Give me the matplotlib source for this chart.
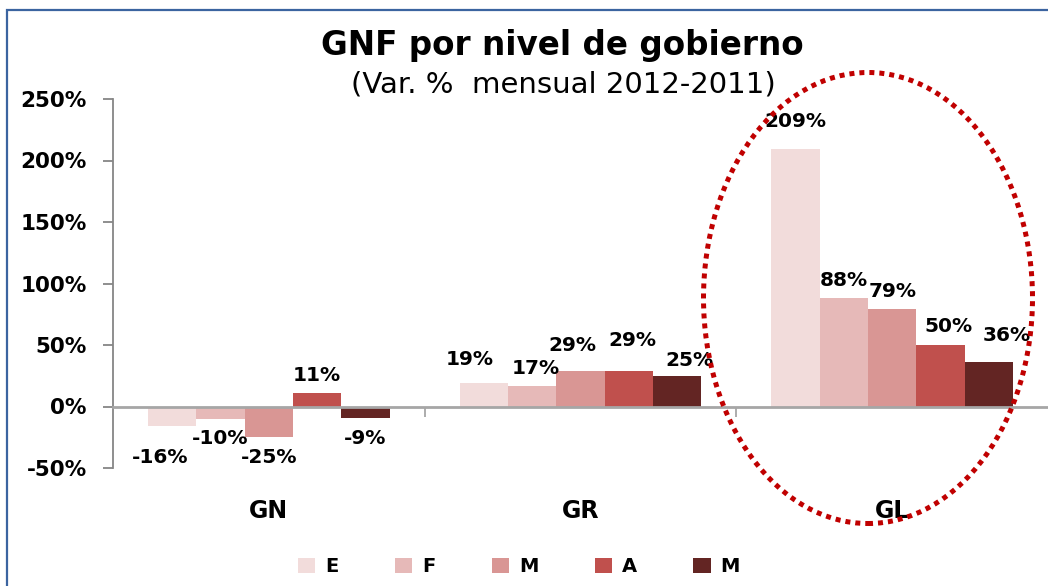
import matplotlib
matplotlib.use("Agg")
import matplotlib.pyplot as plt
import matplotlib.transforms as mtransforms
from matplotlib.patches import Ellipse, Rectangle
import numpy as np

# Datos
niveles = ["GN", "GR", "GL"]
meses = ["E", "F", "M", "A", "M"]
val_E = [-16, 19, 209]
val_F = [-10, 17, 88]
val_M = [-25, 29, 79]
val_A = [11, 29, 50]
val_M2 = [-9, 25, 36]
series = [val_E, val_F, val_M, val_A, val_M2]

colores = ["#F2DCDB", "#E6B9B8", "#D99694", "#C0504D", "#632523"]

# desplazamiento de etiquetas (pixeles), como en el original
dx = [[-12, -14, 0], [0, 4, 0], [0, -8, 0], [0, 4, 8], [0, 12, 18]]
dy = [[-31, 24, 28], [-20, 17, 18], [-20, 25, 18], [17, 30, 18], [-21, 15, 27]]

fig = plt.figure(figsize=(10.48, 5.86), dpi=100)
ax = fig.add_axes([113 / 1048, 1 - 468 / 586, 1 - 113 / 1048, (468 - 99) / 586])

x = np.arange(len(niveles))
ancho = 0.155
for i, (vals, col) in enumerate(zip(series, colores)):
    pos = x + (i - 2) * ancho
    ax.bar(pos, vals, ancho, color=col, label=meses[i], zorder=2)
    for j, v in enumerate(vals):
        ax.annotate(f"{v}%", (pos[j], v), xytext=(dx[i][j], dy[i][j]),
                    textcoords="offset pixels", ha="center", va="center",
                    fontsize=14.5, fontweight="bold", color="black")

ax.set_xlim(-0.5, 2.5)
ax.set_ylim(-50, 250)
ax.set_yticks(range(-50, 251, 50))
ax.set_yticklabels([f"{t}%" for t in range(-50, 251, 50)], fontsize=15.5, fontweight="bold")
ax.tick_params(axis="y", length=7, color="#868686", width=1.3, pad=12)

for s in ["top", "right"]:
    ax.spines[s].set_visible(False)
ax.spines["left"].set_color("#868686")
ax.spines["left"].set_linewidth(1.3)
ax.spines["bottom"].set_position(("data", 0))
ax.spines["bottom"].set_color("#A6A6A6")
ax.spines["bottom"].set_linewidth(2)
ax.spines["bottom"].set_zorder(3)
ax.set_xticks([0.5, 1.5])
ax.set_xticklabels([])
ax.tick_params(axis="x", length=7, color="#A6A6A6", width=1.3, direction="out")

# etiquetas de categoria
tr = mtransforms.blended_transform_factory(ax.transData, fig.transFigure)
for j, n in enumerate(niveles):
    ax.text(x[j], 1 - 511 / 586, n, transform=tr, ha="center", va="center",
            fontsize=17, fontweight="bold")

# titulo
fig.text(562 / 1048, 1 - 45 / 586, "GNF por nivel de gobierno", ha="center",
         va="center", fontsize=23.5, fontweight="bold")
fig.text(563 / 1048, 1 - 84 / 586, "(Var. %  mensual 2012-2011)", ha="center",
         va="center", fontsize=21)

# leyenda
leg = fig.legend(loc="center", bbox_to_anchor=(519 / 1048, 1 - 567 / 586), ncol=5,
                 frameon=False, handlelength=0.9, handleheight=0.8,
                 handletextpad=0.5, columnspacing=2.9,
                 prop={"size": 14, "weight": "bold"})

# elipse punteada
el = Ellipse((868 / 1048, 1 - 298 / 586), 329 / 1048, 451 / 586,
             transform=fig.transFigure, fill=False, edgecolor="#C00000",
             linewidth=3.6, linestyle=(0, (1, 1.0)), zorder=10)
el.set_capstyle("butt")
fig.add_artist(el)

# borde exterior
borde = Rectangle((7 / 1048, -0.05), 1.1, 1.05 - 10 / 586, transform=fig.transFigure,
                  fill=False, edgecolor="#3B64A0", linewidth=1.6)
fig.add_artist(borde)

fig.savefig("out.png", dpi=100)
